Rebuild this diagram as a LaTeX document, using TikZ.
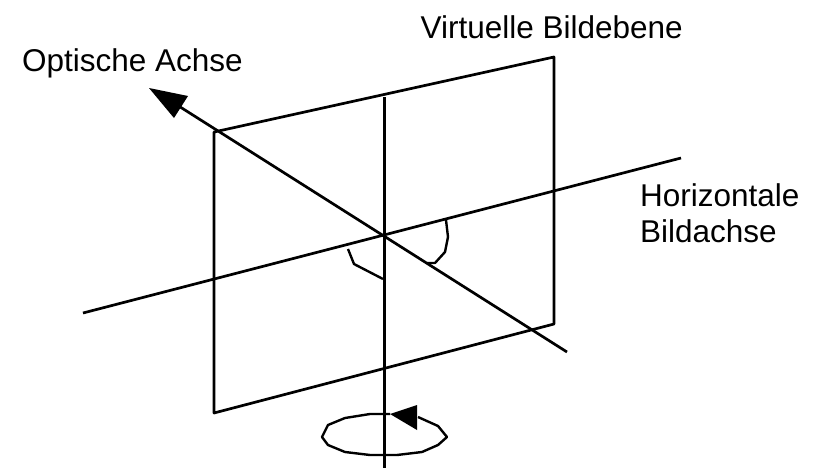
\documentclass[tikz,border=0pt]{standalone}
\usepackage{fontspec}
\setmainfont{Liberation Sans}
\tikzset{
  ln/.style={line width=2.7pt,line join=round},
  thin ln/.style={line width=2.4pt,line join=round},
  head/.style={fill=black,draw=none},
  lbl/.style={inner sep=0pt,align=left,font=\fontsize{31.5}{36}\selectfont}
}
\begin{document}
\begin{tikzpicture}[x=1pt,y=-1pt]
\useasboundingbox (0,0) rectangle (814,469);
\coordinate (tl) at (214,132);
\coordinate (tr) at (554,57);
\coordinate (br) at (554,324);
\coordinate (bl) at (214,413);
\coordinate (vt) at (384.3,97);
\coordinate (vb) at (384.3,468);
\coordinate (hl) at (83,313);
\coordinate (hr) at (681,158);
\coordinate (ob) at (567,352);
\coordinate (ot) at (166,98);
\coordinate (a1) at (149,88);
\coordinate (a2) at (188,96);
\coordinate (a3) at (174,118);
\draw[ln] (tl) -- (tr) -- (br) -- (bl) -- cycle;
\draw[ln] (vt) -- (vb);
\draw[ln] (hl) -- (hr);
\draw[ln] (ob) -- (ot);
\fill[head] (a1) -- (a2) -- (a3) -- cycle;
\draw[thin ln] (446,220) -- (448,237) -- (445,252) -- (435,263) -- (427,263);
\draw[thin ln] (348,249) -- (354,264) -- (383,279);
\draw[thin ln] (390,414) -- (370,414) -- (345,418) -- (328,425) -- (322,437) -- (328,445) -- (345,452) -- (370,455) -- (397,455) -- (422,452) -- (438,445) -- (447,437) -- (438,426) -- (418,417);
\fill[head] (390,414) -- (417,405) -- (417,430) -- cycle;
\node[lbl,anchor=base west] (v) at (420.5,38.5) {Virtuelle Bildebene};
\node[lbl,anchor=base west] (o) at (22,71) {Optische Achse};
\node[lbl,anchor=base west] (h1) at (640,206) {Horizontale};
\node[lbl,anchor=base west] (h2) at (640,242) {Bildachse};
\end{tikzpicture}
\end{document}
